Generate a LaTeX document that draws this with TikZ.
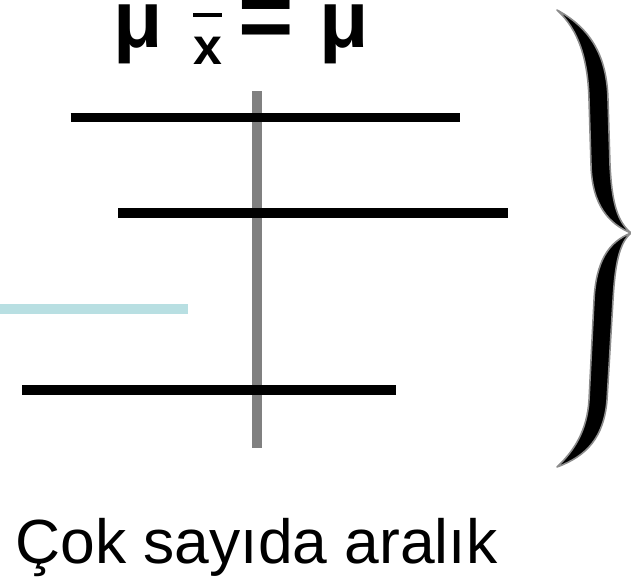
\documentclass[tikz,border=0pt]{standalone}
\usepackage{fontspec}
\setmainfont{Liberation Sans}
\usetikzlibrary{positioning}
\definecolor{ink}{HTML}{000000}
\definecolor{axis}{HTML}{808080}
\definecolor{miss}{HTML}{B8DFE2}
\definecolor{rim}{HTML}{8C8C8C}
\newcommand\xbarsym{\leavevmode\vbox{\hrule height 2.3pt\kern 11.5pt\hbox{x}}}
\tikzset{
  % ---- texts -----------------------------------------------------
  big/.style     = {inner sep=0pt, anchor=base, text=ink,
                    font=\fontsize{46}{50}\selectfont\bfseries},
  sub/.style     = {big, font=\fontsize{29.5}{34}\selectfont\bfseries},
  eqsym/.style   = {big, font=\fontsize{54}{58}\selectfont\bfseries},
  caption/.style = {inner sep=0pt, anchor=base, text=ink,
                    font=\fontsize{35.5}{40}\selectfont},
  % ---- intervals -------------------------------------------------
  mean/.style    = {draw=axis, line width=0.21cm},
  ival/.style    = {draw=ink, line width=0.2cm},
  ivalx/.style   = {draw=miss, line width=0.2cm},
  % ---- brace -----------------------------------------------------
  brc/.style     = {fill=ink, draw=rim, line width=0.9pt, line join=round},
}
\begin{document}
\begin{tikzpicture}[x=0.02cm, y=-0.02cm]
\useasboundingbox (0,0) rectangle (631,581);
% heading
\node[big]   (muL) at (138.5,48) {μ};
\node[sub]   (xb)  at (207.5,65) {\xbarsym};
\node[eqsym] (eq)  at (266,49) {=};
\node[big]   (muR) at (344.5,48) {μ};
% population mean
\coordinate (mtop) at (257,91);
\coordinate (mbot) at (257,448);
\draw[mean] (mtop) -- (mbot);
% intervals
\coordinate (a1) at (70.5,117.5);  \coordinate (b1) at (459.5,117.5);
\coordinate (a2) at (118,213.3);   \coordinate (b2) at (507.5,213.3);
\coordinate (a3) at (0,309.3);     \coordinate (b3) at (188,309.3);
\coordinate (a4) at (22,389.7);    \coordinate (b4) at (396,389.7);
\draw[ival]  (a1) -- (b1);
\draw[ival]  (a2) -- (b2);
\draw[ivalx] (a3) -- (b3);
\draw[ival]  (a4) -- (b4);
% brace
\draw[brc] (557,10) .. controls (590,28) and (607,55) .. (608,100)
  -- (610,165) .. controls (612,205) and (618,222) .. (631,233)
  .. controls (619,243) and (615,265) .. (613,300)
  -- (607,400) .. controls (604,437) and (587,456) .. (557,467)
  .. controls (575,450) and (587,430) .. (589,400)
  -- (594,300) .. controls (596,262) and (608,242) .. (631,233)
  .. controls (609,224) and (592,205) .. (591,165)
  -- (589,100) .. controls (588,60) and (579,30) .. (557,10) -- cycle;
% caption
\node[caption] (cap) at (256.5,563) {Çok sayıda aralık};
\end{tikzpicture}
\end{document}
